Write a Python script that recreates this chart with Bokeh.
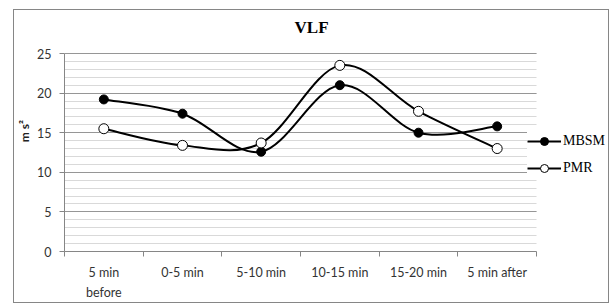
from bokeh.plotting import figure
from bokeh.layouts import column
from bokeh.models import (FixedTicker, SingleIntervalTicker, LinearAxis, Legend,
                          LegendItem, Label, Range1d, ColumnDataSource)
from bokeh.embed import file_html
from bokeh.resources import INLINE

# ---- data ----
labels_line1 = ["5 min", "0-5 min", "5-10 min", "10-15 min", "15-20 min", "5 min after"]
labels_line2 = ["before", "", "", "", "", ""]
mbsm = [19.2, 17.4, 12.6, 21.0, 15.0, 15.8]
pmr = [15.5, 13.4, 13.7, 23.5, 17.7, 13.0]
series_names = ["MBSM", "PMR"]
y_max = 25
y_step = 5

n = len(labels_line1)
xs = [i + 0.5 for i in range(n)]

# ---- layout (pixels) ----
PLOT_W, PLOT_H = 472, 198      # size of the 0..n x 0..y_max plot area
FRAME_W, FRAME_H = 544, 241    # frame also holds title and legend


def smooth_segments(xv, yv):
    """Catmull-Rom style bezier control points (like Excel smoothed lines)."""
    pts = list(zip(xv, yv))
    out = dict(x0=[], y0=[], x1=[], y1=[], cx0=[], cy0=[], cx1=[], cy1=[])
    m = len(pts)
    for i in range(m - 1):
        p0 = pts[i]
        p1 = pts[i + 1]
        pp = pts[i - 1] if i > 0 else p0
        pn = pts[i + 2] if i + 2 < m else p1
        out["x0"].append(p0[0]); out["y0"].append(p0[1])
        out["x1"].append(p1[0]); out["y1"].append(p1[1])
        out["cx0"].append(p0[0] + (p1[0] - pp[0]) / 6)
        out["cy0"].append(p0[1] + (p1[1] - pp[1]) / 6)
        out["cx1"].append(p1[0] - (pn[0] - p0[0]) / 6)
        out["cy1"].append(p1[1] - (pn[1] - p0[1]) / 6)
    return out


x_end = n * FRAME_W / PLOT_W
y_end = y_max * FRAME_H / PLOT_H

p = figure(frame_width=FRAME_W, frame_height=FRAME_H,
           x_range=Range1d(0, x_end), y_range=Range1d(0, y_end),
           output_backend="svg", toolbar_location=None,
           x_axis_location=None, min_border_left=49, min_border_right=0,
           min_border_top=0, min_border_bottom=0)
p.outline_line_color = None
p.background_fill_color = "white"
p.border_fill_color = "white"

# y axis / grid
yax = p.yaxis[0]
yax.bounds = (0, y_max)
yax.ticker = SingleIntervalTicker(interval=y_step, num_minor_ticks=5)
yax.axis_line_color = "#868686"
yax.major_tick_line_color = "#868686"
yax.major_tick_out = 5
yax.major_tick_in = 0
yax.minor_tick_line_color = None
yax.major_label_text_font = "Lato"
yax.major_label_text_font_size = "12.5px"
yax.major_label_text_color = "#333333"
yax.major_label_standoff = 8
yax.axis_label = "m s²"
yax.axis_label_text_font = "Lato"
yax.axis_label_text_font_style = "bold"
yax.axis_label_text_font_size = "12px"
yax.axis_label_text_color = "#222222"
yax.axis_label_standoff = 2

p.xgrid.visible = False
p.ygrid.grid_line_color = "#969696"
p.ygrid.minor_grid_line_color = "#d9d9d9"
p.ygrid.cross_bounds = (0, n)

# x axes (two lines of labels)
bound_ticks = list(range(n + 1))
xa1 = LinearAxis(ticker=FixedTicker(ticks=xs, minor_ticks=bound_ticks),
                 major_label_overrides={x: t for x, t in zip(xs, labels_line1)})
xa1.bounds = (0, n)
xa1.axis_line_color = "#868686"
xa1.major_tick_line_color = None
xa1.major_tick_out = 0
xa1.major_tick_in = 0
xa1.minor_tick_line_color = "#868686"
xa1.minor_tick_out = 5
xa1.minor_tick_in = 0
xa1.major_label_text_font = "Lato"
xa1.major_label_text_font_size = "12.5px"
xa1.major_label_text_color = "#333333"
xa1.major_label_standoff = 8
p.add_layout(xa1, "below")

xa2 = LinearAxis(ticker=FixedTicker(ticks=xs, minor_ticks=[]),
                 major_label_overrides={x: (t if t else " ") for x, t in zip(xs, labels_line2)})
xa2.bounds = (0, n)
xa2.axis_line_color = None
xa2.major_tick_line_color = None
xa2.minor_tick_line_color = None
xa2.major_tick_out = 0
xa2.major_tick_in = 0
xa2.major_label_text_font = "Lato"
xa2.major_label_text_font_size = "12.5px"
xa2.major_label_text_color = "#333333"
xa2.major_label_standoff = 2
p.add_layout(xa2, "below")

# series
b1 = p.bezier(source=ColumnDataSource(smooth_segments(xs, mbsm)),
              x0="x0", y0="y0", x1="x1", y1="y1", cx0="cx0", cy0="cy0",
              cx1="cx1", cy1="cy1", line_color="black", line_width=2)
s1 = p.scatter(xs, mbsm, marker="circle", size=9, fill_color="black",
               line_color="black", line_width=1)
b2 = p.bezier(source=ColumnDataSource(smooth_segments(xs, pmr)),
              x0="x0", y0="y0", x1="x1", y1="y1", cx0="cx0", cy0="cy0",
              cx1="cx1", cy1="cy1", line_color="black", line_width=2)
s2 = p.scatter(xs, pmr, marker="circle", size=10, fill_color="white",
               line_color="black", line_width=1)

legend = Legend(items=[LegendItem(label=series_names[0], renderers=[b1, s1]),
                       LegendItem(label=series_names[1], renderers=[b2, s2])],
                location=(463, 73), orientation="vertical")
legend.label_text_font = "Liberation Serif"
legend.label_text_font_size = "14px"
legend.label_text_color = "black"
legend.glyph_width = 34
legend.glyph_height = 20
legend.label_height = 20
legend.spacing = 7
legend.padding = 2
legend.margin = 0
legend.label_standoff = 2
legend.border_line_color = None
legend.background_fill_color = "white"
legend.background_fill_alpha = 1
p.add_layout(legend)

title = Label(x=3.14, y=28.3, text="VLF", text_align="center", text_baseline="middle",
              text_font="Liberation Serif", text_font_style="bold",
              text_font_size="17px", text_color="black")
p.add_layout(title)

root = column(p, margin=(9, 0, 0, 13), styles={"border": "1px solid #868686"})

open("out.html", "w").write(file_html(root, INLINE))
